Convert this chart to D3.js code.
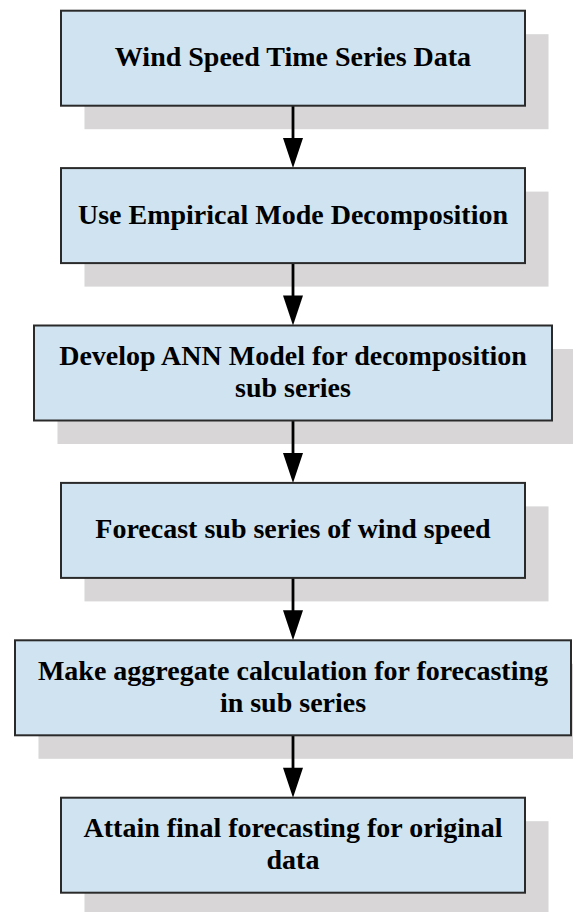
<!DOCTYPE html>
<html><head><meta charset="utf-8">
<script src="https://cdn.jsdelivr.net/npm/d3@7"></script>
<style>html,body{margin:0;padding:0;background:#fff;}svg{display:block;}</style>
</head><body>
<script>
// Flowchart steps (text lines per box)
const steps = [
  ["Wind Speed Time Series Data"],
  ["Use Empirical Mode Decomposition"],
  ["Develop ANN Model for decomposition", "sub series"],
  ["Forecast sub series of wind speed"],
  ["Make aggregate calculation for forecasting", "in sub series"],
  ["Attain final forecasting for original", "data"]
];
const stepIndex = d3.range(steps.length);

// Layout (kept separate from the data)
const W = 573, H = 912;
const boxH = 95;
const cx = 293;
const halfWidths = [232, 232, 259, 232, 278, 232];
const shadowOff = 23.5;

const svg = d3.select("body").append("svg").attr("width", W).attr("height", H);

const y = d3.scaleLinear().domain([0, steps.length - 1]).range([10.7, 797.7]);

const g = svg.append("g");

// Shadows
g.selectAll("rect.shadow").data(stepIndex).join("rect")
  .attr("class", "shadow")
  .attr("x", i => cx - halfWidths[i] + shadowOff)
  .attr("y", i => y(i) + shadowOff)
  .attr("width", i => halfWidths[i] * 2)
  .attr("height", boxH)
  .attr("fill", "#d8d6d6");

// Arrows between boxes
g.selectAll("line.arrow").data(stepIndex.slice(0, -1)).join("line")
  .attr("class", "arrow")
  .attr("x1", cx).attr("x2", cx)
  .attr("y1", i => y(i) + boxH)
  .attr("y2", i => y(i + 1) - 15)
  .attr("stroke", "#000").attr("stroke-width", 2.8);
g.selectAll("path.head").data(stepIndex.slice(0, -1)).join("path")
  .attr("class", "head")
  .attr("d", i => {
    const t = y(i + 1);
    return `M${cx - 10},${t - 30} L${cx + 10},${t - 30} L${cx},${t} Z`;
  })
  .attr("fill", "#000");

// Boxes
g.selectAll("rect.box").data(stepIndex).join("rect")
  .attr("class", "box")
  .attr("x", i => cx - halfWidths[i])
  .attr("y", i => y(i))
  .attr("width", i => halfWidths[i] * 2)
  .attr("height", boxH)
  .attr("fill", "#cfe4f0")
  .attr("stroke", "#2a2a2a").attr("stroke-width", 2);

// Labels
const lineGap = 32.5;
const labels = g.selectAll("text.label").data(stepIndex).join("text")
  .attr("class", "label")
  .attr("text-anchor", "middle")
  .attr("font-family", "'Liberation Serif', 'Times New Roman', serif")
  .attr("font-weight", "bold")
  .attr("font-size", 28)
  .attr("fill", "#000");
labels.each(function(i) {
  const lines = steps[i];
  const center = y(i) + boxH / 2 + 8;
  const start = center - (lines.length - 1) * lineGap / 2;
  d3.select(this).selectAll("tspan").data(lines).join("tspan")
    .attr("x", cx)
    .attr("y", (d, k) => start + k * lineGap)
    .text(d => d);
});
</script>
</body></html>
